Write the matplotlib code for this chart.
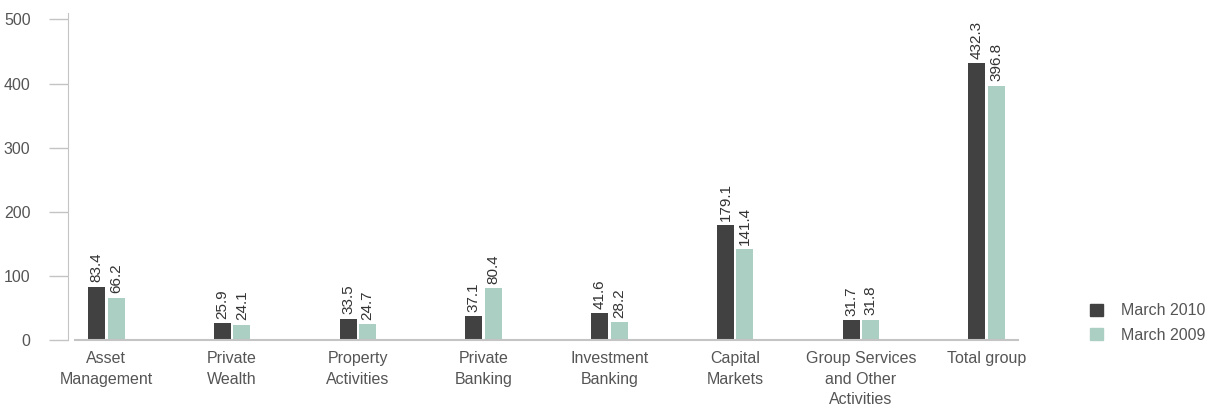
import matplotlib
matplotlib.use("Agg")
import matplotlib.pyplot as plt
from matplotlib.patches import Patch
import numpy as np

plt.rcParams["font.family"] = ["Liberation Sans", "DejaVu Sans"]

categories = ["Asset\nManagement", "Private\nWealth", "Property\nActivities", "Private\nBanking",
              "Investment\nBanking", "Capital\nMarkets", "Group Services\nand Other\nActivities",
              "Total group"]
march_2010 = [83.4, 25.9, 33.5, 37.1, 41.6, 179.1, 31.7, 432.3]
march_2009 = [66.2, 24.1, 24.7, 80.4, 28.2, 141.4, 31.8, 396.8]
series_names = ["March 2010", "March 2009"]
yticks = [0, 100, 200, 300, 400, 500]

dark = "#414142"
light = "#abcfc2"
text_col = "#555555"
line_col = "#c4c4c4"

W, H = 1211, 408
fig = plt.figure(figsize=(W / 100, H / 100), dpi=100)
ax = fig.add_axes([75 / W, (H - 340) / H, (1018 - 75) / W, (340 - 13) / H])

x = np.arange(len(categories))
bw = 0.135
off = 0.077
b1 = ax.bar(x - off, march_2010, bw, color=dark)
b2 = ax.bar(x + off, march_2009, bw, color=light)

for bars, vals in ((b1, march_2010), (b2, march_2009)):
    for rect, v in zip(bars, vals):
        ax.annotate(f"{v:.1f}", (rect.get_x() + rect.get_width() / 2, v),
                    xytext=(0, 3), textcoords="offset points",
                    rotation=90, ha="center", va="bottom",
                    fontsize=11, color="#333333")

ax.set_xlim(-0.25, 7.25)
ax.set_ylim(0, 510)
ax.set_yticks(yticks)
ax.set_xticks(x)
ax.set_xticklabels(categories, fontsize=11.5, color=text_col, linespacing=1.45)
ax.tick_params(axis="x", length=0, pad=8)
ax.tick_params(axis="y", length=14, width=1, color=line_col, labelsize=11.5,
               labelcolor=text_col, pad=13)

for s in ("top", "right"):
    ax.spines[s].set_visible(False)
ax.spines["left"].set_position(("outward", 5))
ax.spines["left"].set_color(line_col)
ax.spines["bottom"].set_color(line_col)
ax.spines["bottom"].set_linewidth(1.5)

handles = [Patch(color=dark), Patch(color=light)]
fig.legend(handles, series_names, loc="center left",
           bbox_to_anchor=(1076 / W, 1 - 323 / H), frameon=False,
           fontsize=11.5, labelcolor=text_col, handlelength=0.8, handleheight=0.8,
           handletextpad=1.1, labelspacing=0.6)

fig.savefig("out.png", dpi=100)
